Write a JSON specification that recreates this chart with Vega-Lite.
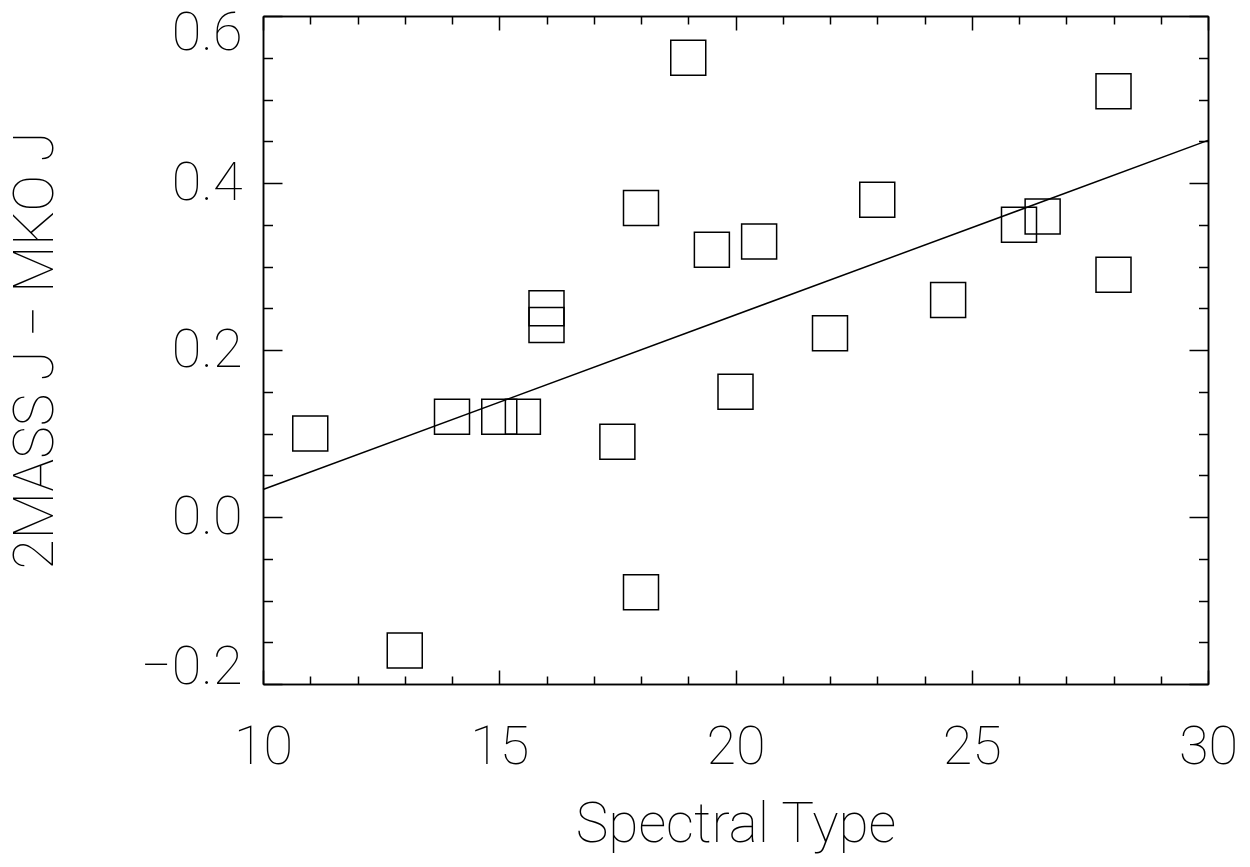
{
  "$schema": "https://vega.github.io/schema/vega-lite/v6.json",
  "width": 945,
  "height": 668,
  "autosize": {"type": "none"},
  "padding": {"left": 263, "top": 16, "right": 42, "bottom": 183},
  "background": "white",
  "config": {
    "view": {"stroke": null},
    "axis": {
      "domainColor": "black",
      "domainWidth": 1.5,
      "tickColor": "black",
      "tickWidth": 1.5,
      "grid": false,
      "labelFont": "Roboto",
      "labelFontWeight": 100,
      "labelFontSize": 54,
      "labelColor": "black",
      "titleFont": "Roboto",
      "titleFontWeight": 100,
      "titleFontSize": 55,
      "titleColor": "black"
    }
  },
  "datasets": {
    "points": [
      {"spt": 11.0, "dj": 0.10},
      {"spt": 13.0, "dj": -0.16},
      {"spt": 14.0, "dj": 0.12},
      {"spt": 15.0, "dj": 0.12},
      {"spt": 15.5, "dj": 0.12},
      {"spt": 16.0, "dj": 0.25},
      {"spt": 16.0, "dj": 0.23},
      {"spt": 17.5, "dj": 0.09},
      {"spt": 18.0, "dj": 0.37},
      {"spt": 18.0, "dj": -0.09},
      {"spt": 19.0, "dj": 0.55},
      {"spt": 19.5, "dj": 0.32},
      {"spt": 20.0, "dj": 0.15},
      {"spt": 20.5, "dj": 0.33},
      {"spt": 22.0, "dj": 0.22},
      {"spt": 23.0, "dj": 0.38},
      {"spt": 24.5, "dj": 0.26},
      {"spt": 26.0, "dj": 0.35},
      {"spt": 26.5, "dj": 0.36},
      {"spt": 28.0, "dj": 0.51},
      {"spt": 28.0, "dj": 0.29}
    ],
    "fit": [
      {"spt": 10, "dj": 0.033},
      {"spt": 30, "dj": 0.451}
    ]
  },
  "resolve": {"axis": {"x": "independent", "y": "independent"}},
  "layer": [
    {
      "data": {"name": "points"},
      "mark": {"type": "point", "shape": "square", "size": 1225, "filled": false, "stroke": "black", "strokeWidth": 1.5, "opacity": 1},
      "encoding": {
        "x": {
          "field": "spt", "type": "quantitative",
          "scale": {"domain": [10, 30], "nice": false, "zero": false},
          "axis": {"orient": "bottom", "title": "Spectral Type", "values": [10, 15, 20, 25, 30], "tickSize": -14, "labelPadding": 50, "titlePadding": 24, "labelFlush": false, "labelOverlap": false}
        },
        "y": {
          "field": "dj", "type": "quantitative",
          "scale": {"domain": [-0.2, 0.6], "nice": false, "zero": false},
          "axis": {"orient": "left", "title": "2MASS J − MKO J", "values": [-0.2, 0, 0.2, 0.4, 0.6], "format": ".1f", "tickSize": -19, "labelPadding": 40, "titlePadding": 76, "labelFlush": true, "labelFlushOffset": 10, "labelOverlap": false}
        }
      }
    },
    {
      "data": {"name": "fit"},
      "mark": {"type": "line", "color": "black", "strokeWidth": 1.5},
      "encoding": {
        "x": {
          "field": "spt", "type": "quantitative",
          "scale": {"domain": [10, 30], "nice": false, "zero": false},
          "axis": {"orient": "top", "title": null, "values": [10, 15, 20, 25, 30], "tickSize": -14, "labels": false}
        },
        "y": {
          "field": "dj", "type": "quantitative",
          "scale": {"domain": [-0.2, 0.6], "nice": false, "zero": false},
          "axis": {"orient": "right", "title": null, "values": [-0.2, 0, 0.2, 0.4, 0.6], "tickSize": -19, "labels": false}
        }
      }
    },
    {
      "data": {"name": "fit"},
      "mark": {"type": "line", "color": "black", "strokeOpacity": 0},
      "encoding": {
        "x": {
          "field": "spt", "type": "quantitative",
          "scale": {"domain": [10, 30], "nice": false, "zero": false},
          "axis": {"orient": "bottom", "title": null, "values": [11, 12, 13, 14, 16, 17, 18, 19, 21, 22, 23, 24, 26, 27, 28, 29], "tickSize": -8, "labels": false}
        },
        "y": {
          "field": "dj", "type": "quantitative",
          "scale": {"domain": [-0.2, 0.6], "nice": false, "zero": false},
          "axis": {"orient": "left", "title": null, "values": [-0.15, -0.1, -0.05, 0.05, 0.1, 0.15, 0.25, 0.3, 0.35, 0.45, 0.5, 0.55], "tickSize": -9.5, "labels": false}
        }
      }
    },
    {
      "data": {"name": "fit"},
      "mark": {"type": "line", "color": "black", "strokeOpacity": 0},
      "encoding": {
        "x": {
          "field": "spt", "type": "quantitative",
          "scale": {"domain": [10, 30], "nice": false, "zero": false},
          "axis": {"orient": "top", "title": null, "values": [11, 12, 13, 14, 16, 17, 18, 19, 21, 22, 23, 24, 26, 27, 28, 29], "tickSize": -8, "labels": false}
        },
        "y": {
          "field": "dj", "type": "quantitative",
          "scale": {"domain": [-0.2, 0.6], "nice": false, "zero": false},
          "axis": {"orient": "right", "title": null, "values": [-0.15, -0.1, -0.05, 0.05, 0.1, 0.15, 0.25, 0.3, 0.35, 0.45, 0.5, 0.55], "tickSize": -9.5, "labels": false}
        }
      }
    }
  ]
}
